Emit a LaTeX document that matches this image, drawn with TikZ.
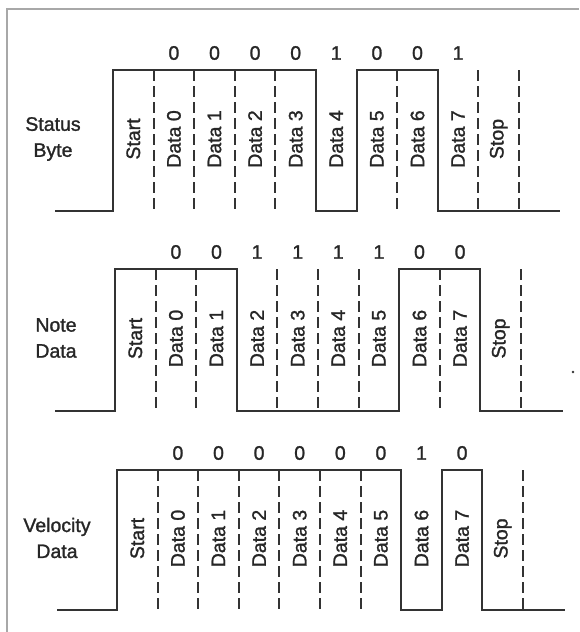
\documentclass[tikz,border=0pt]{standalone}
\usepackage{fontspec}
\setmainfont{Liberation Sans}
\newfontfamily\heavy{Liberation Sans}[FakeBold=1.3]
\definecolor{ink}{HTML}{333333}
\definecolor{txt}{HTML}{262626}
\definecolor{frame}{HTML}{A8A8A8}
\def\bw{40.6}
\newcommand\bitrow[5]{%
  \foreach \lab [count=\i from 0] in {Start,Data 0,Data 1,Data 2,Data 3,Data 4,Data 5,Data 6,Data 7,Stop}
    \node[bitname] (#1n\i) at ({#2+(\i+0.5)*\bw},{(#3+#4)/2-1.5}) {\lab};
  \foreach \v [count=\i from 0] in {#5}
    \node[bitval] (#1v\i) at ({#2+(\i+1.5)*\bw},{#3-17}) {\v};
}
\newcommand\dashrow[4]{%
  \foreach \k in {#4}
    \draw[tick] ({#1+\k*\bw},#2) -- ({#1+\k*\bw},#3);
}
\begin{document}
\begin{tikzpicture}[x=1pt,y=-1pt,
  wave/.style={draw=ink,line width=2.1pt,line join=miter},
  tick/.style={draw=ink,line width=2pt,dash pattern=on 11pt off 5pt},
  bitname/.style={rotate=90,inner sep=0pt,text=txt,font=\heavy\fontsize{19.5}{24}\selectfont},
  bitval/.style={inner sep=0pt,text=txt,font=\heavy\fontsize{19.5}{24}\selectfont},
  rowlab/.style={inner sep=0pt,align=center,text=txt,font=\heavy\fontsize{19.5}{26}\selectfont}]
\useasboundingbox (0,0) rectangle (579,632);
\fill[white] (0,0) rectangle (579,632);
% frame
\draw[frame,line width=1.6pt] (7,632) -- (7,9) -- (579,9);

% ---------- Status Byte ----------
\node[rowlab] (lab1) at (53,139) {Status\\Byte};
\draw[wave] (55,211) -- (113,211) -- (113,70) -- ({113+5*\bw},70) -- ({113+5*\bw},211)
  -- ({113+6*\bw},211) -- ({113+6*\bw},70) -- ({113+8*\bw},70) -- ({113+8*\bw},211) -- (560,211);
\dashrow{113}{70}{211}{1,2,3,4,7,9,10}
\bitrow{s}{113}{70}{211}{0,0,0,0,1,0,0,1}

% ---------- Note Data ----------
\node[rowlab] (lab2) at (56,338) {Note\\Data};
\draw[wave] (55,411) -- (115,411) -- (115,269) -- ({115+3*\bw},269) -- ({115+3*\bw},411)
  -- ({115+7*\bw},411) -- ({115+7*\bw},269) -- ({115+9*\bw},269) -- ({115+9*\bw},411) -- (563,411);
\dashrow{115}{269}{411}{1,2,4,5,6,8,10}
\bitrow{n}{115}{269}{411}{0,0,1,1,1,1,0,0}

% ---------- Velocity Data ----------
\node[rowlab] (lab3) at (57,538) {Velocity\\Data};
\draw[wave] (57,610) -- (117,610) -- (117,470) -- ({117+7*\bw},470) -- ({117+7*\bw},610)
  -- ({117+8*\bw},610) -- ({117+8*\bw},470) -- ({117+9*\bw},470) -- ({117+9*\bw},610) -- (565,610);
\dashrow{117}{470}{610}{1,2,3,4,5,6,10}
\bitrow{v}{117}{470}{610}{0,0,0,0,0,0,1,0}

% stray dot
\fill[ink] (573,372) circle (1.3pt);
\end{tikzpicture}
\end{document}
